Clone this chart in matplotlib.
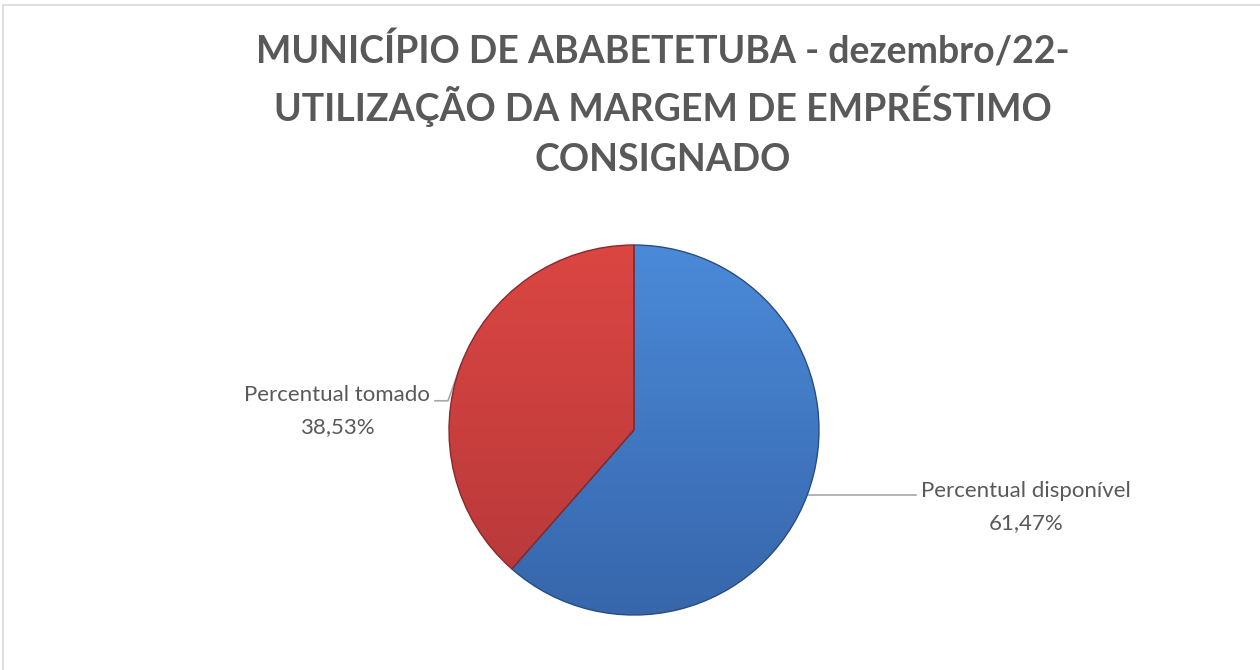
import numpy as np
import matplotlib
matplotlib.use("Agg")
import matplotlib.pyplot as plt
from matplotlib.patches import Rectangle

# dados
categorias = ["Percentual disponível", "Percentual tomado"]
valores = [61.47, 38.53]
rotulos_pct = ["61,47%", "38,53%"]
titulo = ["MUNICÍPIO DE ABABETETUBA - dezembro/22-",
          "UTILIZAÇÃO DA MARGEM DE EMPRÉSTIMO",
          "CONSIGNADO"]

cores_topo = ["#4b8ad9", "#db4642"]
cores_base = ["#3766ab", "#b5383a"]
cor_texto = "#595959"

W, H = 1260, 670
fig = plt.figure(figsize=(W / 100, H / 100), dpi=100)
ax = fig.add_axes([0, 0, 1, 1])

# moldura do gráfico
ax.add_patch(Rectangle((2.5, -20), W + 20, H - 5 + 20, fill=False,
                       edgecolor="#d9d9d9", linewidth=1.2))

cx, cy, r = 634, H - 430, 185
wedges, _ = ax.pie(valores, startangle=90, counterclock=False, center=(cx, cy),
                   radius=r, frame=True)
ax.set_xlim(0, W)
ax.set_ylim(0, H)
ax.set_aspect("equal")
ax.axis("off")

# gradiente vertical em cada fatia
for w, c0, c1 in zip(wedges, cores_topo, cores_base):
    c0 = np.array(matplotlib.colors.to_rgb(c0))
    c1 = np.array(matplotlib.colors.to_rgb(c1))
    t = np.linspace(0, 1, 256)[:, None]
    img = (c0 * (1 - t) + c1 * t)[:, None, :]
    im = ax.imshow(img, extent=(cx - r, cx + r, cy - r, cy + r), origin="upper",
                   aspect="auto", zorder=w.get_zorder() + 0.1)
    im.set_clip_path(w)
    w.set_edgecolor(np.clip(c1 * 0.75, 0, 1))
    w.set_zorder(w.get_zorder() + 0.2)
    w.set_facecolor("none")
    w.set_linewidth(1.0)

fonte = ["Lato", "DejaVu Sans"]

# rótulos com linhas de chamada
for w, cat, pct in zip(wedges, categorias, rotulos_pct):
    ang = np.deg2rad((w.theta1 + w.theta2) / 2)
    ex, ey = cx + r * np.cos(ang), cy + r * np.sin(ang)
    if np.cos(ang) > 0:
        ax.plot([ex, 916], [ey, ey], color="#a6a6a6", lw=1.2, zorder=1)
        tx, ty = 1026, ey + 4
    else:
        ax.plot([ex, 448, 435], [ey, ey - 36, ey - 36], color="#a6a6a6", lw=1.2, zorder=1)
        tx, ty = 337, ey - 36 + 6
    ax.text(tx, ty, cat, ha="center", va="center", fontsize=16,
            color=cor_texto, family=fonte)
    ax.text(tx, ty - 32, pct, ha="center", va="center", fontsize=16,
            color=cor_texto, family=fonte)

# título
for linha, y in zip(titulo, [51, 106, 160]):
    ax.text(663, H - y, linha, ha="center", va="center", fontsize=27,
            fontweight="bold", color=cor_texto, family=fonte)

fig.savefig("out.png", dpi=100, facecolor="white")
